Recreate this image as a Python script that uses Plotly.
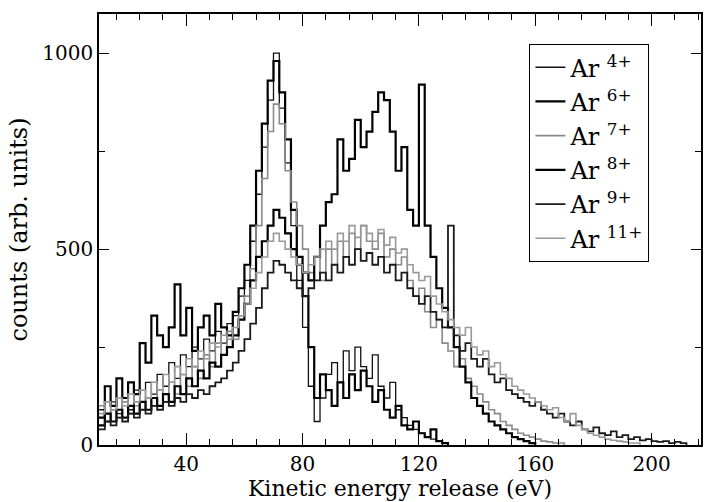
import plotly.graph_objects as go

# bin left edges (eV), 2 eV bins starting at 10 eV
bin_start = 10
bin_width = 2

ar4 = [90, 60, 110, 80, 120, 90, 140, 110, 160, 130, 180, 150, 210, 170, 230, 200, 250, 220, 270, 240,
       290, 260, 310, 330, 380, 420, 520, 640, 760, 880, 1000, 860, 720, 560, 420, 300, 150, 60, 120, 180,
       210, 160, 240, 190, 250, 200, 170, 230, 150, 120, 160, 90, 70, 50, 40, 30, 20, 15, 10, 5]

ar6 = [70, 150, 100, 170, 120, 160, 130, 260, 210, 330, 280, 250, 300, 410, 280, 350, 240, 300, 330, 280,
       360, 300, 280, 340, 400, 460, 560, 700, 820, 930, 980, 900, 780, 600, 480, 380, 250, 120, 180, 140,
       100, 160, 120, 180, 140, 190, 150, 110, 140, 90, 70, 100, 50, 40, 60, 30, 20, 40, 10, 5, 0]

ar7 = [100, 60, 90, 70, 110, 80, 100, 90, 120, 100, 140, 110, 160, 130, 180, 150, 200, 170, 230, 200,
       260, 230, 290, 270, 330, 380, 450, 560, 680, 800, 870, 820, 700, 620, 560, 500, 440, 480, 420, 500,
       460, 520, 480, 540, 500, 560, 520, 500, 540, 480, 500, 460, 480, 420, 380, 400, 340, 300, 320, 260,
       240, 200, 220, 170, 150, 130, 110, 90, 80, 60, 50, 40, 30, 25, 20, 15, 10, 8, 5, 5, 0]

ar8 = [50, 80, 60, 90, 70, 100, 80, 110, 90, 120, 100, 130, 110, 150, 130, 170, 150, 190, 170, 210,
       200, 230, 250, 280, 320, 360, 420, 480, 520, 560, 600, 580, 540, 500, 460, 440, 420, 480, 560, 620,
       640, 780, 700, 730, 830, 760, 800, 850, 900, 880, 800, 700, 760, 600, 560, 920, 560, 480, 400, 350,
       300, 250, 200, 160, 120, 100, 80, 60, 50, 40, 30, 20, 15, 10, 5, 0]

ar9 = [40, 60, 50, 70, 60, 80, 70, 90, 80, 100, 90, 110, 100, 120, 110, 130, 120, 140, 130, 150,
       160, 170, 190, 210, 240, 270, 310, 350, 400, 440, 470, 460, 440, 420, 400, 380, 400, 420, 440, 420,
       460, 440, 480, 460, 500, 470, 490, 460, 480, 440, 460, 420, 440, 400, 380, 360, 380, 340, 320, 300,
       560, 280, 240, 260, 220, 200, 220, 180, 160, 170, 140, 130, 120, 110, 100, 110, 90, 80, 70, 80,
       60, 50, 60, 40, 35, 45, 30, 25, 35, 20, 25, 15, 20, 12, 15, 10, 8, 10, 5, 8, 5, 0]

ar11 = [80, 110, 90, 120, 100, 130, 110, 140, 120, 160, 140, 180, 160, 200, 180, 220, 200, 240, 220, 260,
        250, 280, 270, 300, 330, 360, 400, 440, 480, 520, 540, 520, 500, 480, 460, 440, 460, 480, 500, 520,
        500, 540, 520, 560, 530, 560, 540, 520, 550, 510, 530, 490, 500, 460, 440, 420, 430, 380, 360, 340,
        320, 300, 280, 300, 250, 230, 240, 200, 210, 180, 170, 150, 140, 130, 120, 110, 100, 90, 95, 70,
        60, 80, 50, 40, 30, 25, 20, 15, 12, 10, 8, 5, 5, 0]

series_names = ["Ar <sup>4+</sup>", "Ar <sup>6+</sup>", "Ar <sup>7+</sup>",
                "Ar <sup>8+</sup>", "Ar <sup>9+</sup>", "Ar <sup>11+</sup>"]
series_values = [ar4, ar6, ar7, ar8, ar9, ar11]
series_colors = ["#111111", "#000000", "#8a8a8a", "#000000", "#1a1a1a", "#9a9a9a"]
series_widths = [1.3, 2.2, 1.6, 2.2, 1.8, 1.6]

x_ticks = [40, 80, 120, 160, 200]
y_ticks = [0, 500, 1000]

fig = go.Figure()
for name, vals, col, w in zip(series_names, series_values, series_colors, series_widths):
    xs = [bin_start + i * bin_width for i in range(len(vals))]
    fig.add_trace(go.Scatter(x=xs, y=vals, mode="lines", name=name,
                             line=dict(color=col, width=w, shape="hv")))

font_family = "DejaVu Serif"
fig.update_layout(
    width=709, height=502,
    margin=dict(l=99, r=6, t=14, b=57),
    paper_bgcolor="white", plot_bgcolor="white",
    font=dict(family=font_family, size=20, color="black"),
    legend=dict(x=0.715, y=0.93, xanchor="left", yanchor="top",
                bordercolor="black", borderwidth=1, bgcolor="white",
                font=dict(family=font_family, size=24, color="black"),
                itemwidth=30, tracegroupgap=0),
    xaxis=dict(range=[10, 217], tickvals=x_ticks, ticks="inside", ticklen=12,
               tickcolor="black", showline=True, linecolor="black", linewidth=1.5,
               mirror="allticks", showgrid=False, zeroline=False,
               minor=dict(dtick=8, tick0=0, ticks="inside", ticklen=6, tickcolor="black"),
               title=dict(text="Kinetic energy release (eV)", standoff=2,
                          font=dict(family=font_family, size=22)),
               tickfont=dict(family=font_family, size=20)),
    yaxis=dict(range=[0, 1100], tickvals=y_ticks, ticks="inside", ticklen=10,
               tickcolor="black", showline=True, linecolor="black", linewidth=1.5,
               mirror="allticks", showgrid=False, zeroline=False,
               minor=dict(dtick=250, tick0=0, ticks="inside", ticklen=6, tickcolor="black"),
               title=dict(text="counts (arb. units)", standoff=8,
                          font=dict(family=font_family, size=24)),
               tickfont=dict(family=font_family, size=20)),
)

fig.write_html("out.html")
